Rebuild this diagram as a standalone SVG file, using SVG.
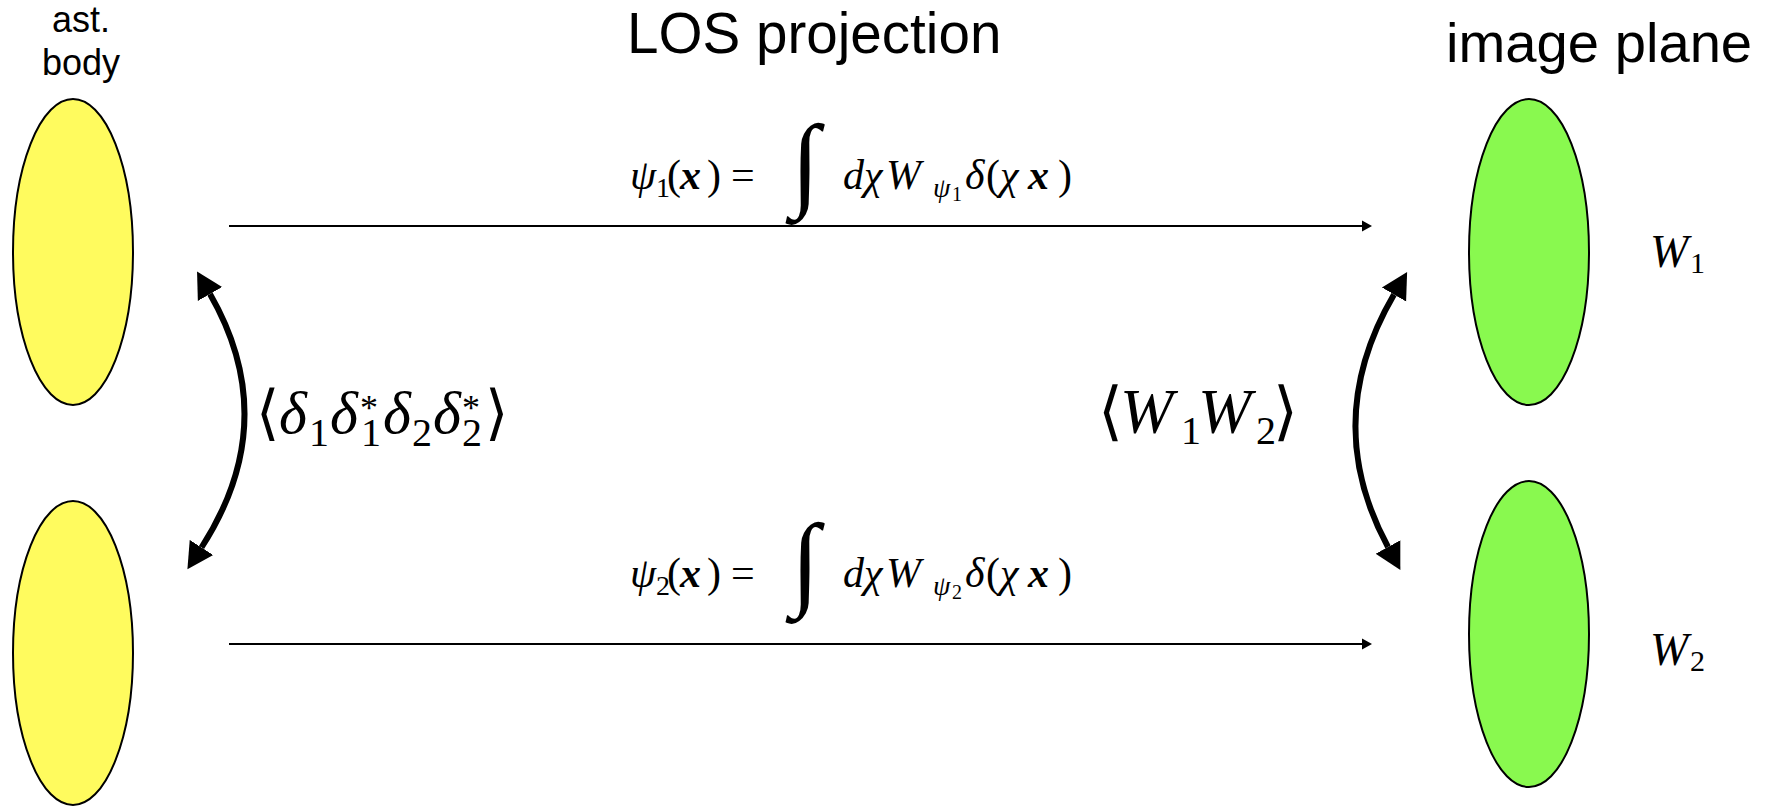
<svg xmlns="http://www.w3.org/2000/svg" width="1768" height="807" viewBox="0 0 1768 807">
<style>
.lbl{font-family:"Liberation Sans",Arial,sans-serif;fill:#000}
.m{font-family:"Liberation Serif","DejaVu Serif",serif;font-style:italic;fill:#000}
.r{font-style:normal}
.b{font-weight:bold}
.ang{font-family:"DejaVu Serif","DejaVu Sans",serif;font-style:normal;font-weight:normal}
.yel{fill:#FFFB5E;stroke:#000;stroke-width:2}
.grn{fill:#89F94F;stroke:#000;stroke-width:2}
.thin{fill:none;stroke:#000;stroke-width:2}
.thick{fill:none;stroke:#000;stroke-width:6}
</style>
<defs>
<marker id="ah" markerUnits="userSpaceOnUse" markerWidth="12" markerHeight="12" refX="0" refY="6" orient="auto">
<path d="M0,0.5 L10,6 L0,11.5 z" fill="#000"/>
</marker>
<marker id="bh" markerUnits="userSpaceOnUse" markerWidth="28" markerHeight="30" refX="0" refY="15" orient="auto-start-reverse">
<path d="M0,1 L26,15 L0,29 z" fill="#000"/>
</marker>
</defs>
<rect width="1768" height="807" fill="#fff"/>

<g id="titles">
<text class="lbl" x="81" y="32" font-size="36" text-anchor="middle">ast.</text>
<text class="lbl" x="81" y="75" font-size="36" text-anchor="middle">body</text>
<text class="lbl" x="627" y="53" font-size="56.6">LOS projection</text>
<text class="lbl" x="1446" y="62" font-size="56.2">image plane</text>
</g>

<g id="body1"><ellipse class="yel" cx="73" cy="252" rx="60" ry="153"/></g>
<g id="body2"><ellipse class="yel" cx="73" cy="653" rx="60" ry="152"/></g>
<g id="image1"><ellipse class="grn" cx="1529" cy="252" rx="60" ry="153"/>
<text class="m" font-size="46" y="267"><tspan x="1650">W</tspan><tspan class="r" font-size="30" x="1690" y="273">1</tspan></text>
</g>
<g id="image2"><ellipse class="grn" cx="1529" cy="634" rx="60" ry="153"/>
<text class="m" font-size="46" y="665"><tspan x="1650">W</tspan><tspan class="r" font-size="30" x="1690" y="671">2</tspan></text>
</g>

<g id="connectors">
<line class="thin" x1="229" y1="226" x2="1362" y2="226" marker-end="url(#ah)"/>
<line class="thin" x1="229" y1="644" x2="1362" y2="644" marker-end="url(#ah)"/>
<path class="thick" d="M210,294 Q283,421 201.5,547.5" marker-start="url(#bh)" marker-end="url(#bh)"/>
<path class="thick" d="M1394,294.5 Q1320,421 1388,547" marker-start="url(#bh)" marker-end="url(#bh)"/>
</g>

<g id="eq-psi1">
<text class="m" font-size="42" y="189"><tspan x="630">ψ</tspan><tspan class="r" font-size="28" x="656" y="197">1</tspan><tspan class="r" x="667" y="189">(</tspan><tspan class="b" x="680">x</tspan><tspan class="r" x="707">)</tspan><tspan class="r" x="731">=</tspan><tspan x="843">d</tspan><tspan x="864">χ</tspan><tspan x="886">W</tspan><tspan font-size="28" x="933" y="197">ψ</tspan><tspan class="r" font-size="20" x="952" y="201">1</tspan><tspan x="965" y="189">δ</tspan><tspan class="r" x="986">(</tspan><tspan x="1000">χ</tspan><tspan class="b" x="1028">x</tspan><tspan class="r" x="1058">)</tspan></text>
<text class="m r" font-size="104" x="791" y="197">∫</text>
</g>
<g id="eq-psi2">
<text class="m" font-size="42" y="587"><tspan x="630">ψ</tspan><tspan class="r" font-size="28" x="656" y="595">2</tspan><tspan class="r" x="667" y="587">(</tspan><tspan class="b" x="680">x</tspan><tspan class="r" x="707">)</tspan><tspan class="r" x="731">=</tspan><tspan x="843">d</tspan><tspan x="864">χ</tspan><tspan x="886">W</tspan><tspan font-size="28" x="933" y="595">ψ</tspan><tspan class="r" font-size="20" x="952" y="599">2</tspan><tspan x="965" y="587">δ</tspan><tspan class="r" x="986">(</tspan><tspan x="1000">χ</tspan><tspan class="b" x="1028">x</tspan><tspan class="r" x="1058">)</tspan></text>
<text class="m r" font-size="104" x="791" y="596">∫</text>
</g>

<g id="eq-delta">
<text class="m" font-size="60" y="433"><tspan class="ang" x="256">⟨</tspan><tspan x="279">δ</tspan><tspan class="r" font-size="40" x="309" y="446">1</tspan><tspan x="330" y="433">δ</tspan><tspan class="r" font-size="36" x="360" y="420">*</tspan><tspan class="r" font-size="40" x="361" y="446">1</tspan><tspan x="383" y="433">δ</tspan><tspan class="r" font-size="40" x="412" y="446">2</tspan><tspan x="433" y="433">δ</tspan><tspan class="r" font-size="36" x="462" y="420">*</tspan><tspan class="r" font-size="40" x="462" y="446">2</tspan><tspan class="ang" x="485" y="433">⟩</tspan></text>
</g>
<g id="eq-W">
<text class="m" font-size="64" y="433"><tspan class="ang" x="1098">⟨</tspan><tspan x="1120">W</tspan><tspan class="r" font-size="40" x="1181" y="444">1</tspan><tspan x="1198" y="433">W</tspan><tspan class="r" font-size="40" x="1256" y="444">2</tspan><tspan class="ang" x="1273" y="433">⟩</tspan></text>
</g>
</svg>
